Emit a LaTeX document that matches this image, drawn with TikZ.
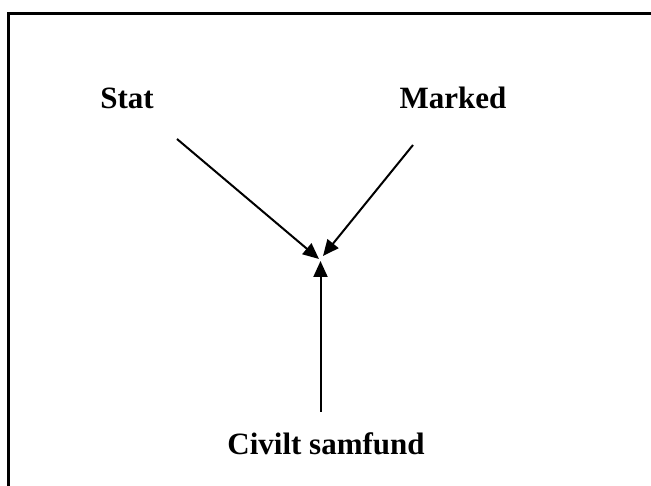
\documentclass[tikz,border=0pt]{standalone}
\usepackage{fontspec}
\setmainfont{Liberation Serif}
\usepackage{tikz}
\usetikzlibrary{positioning,arrows.meta,calc}

\begin{document}
\begin{tikzpicture}[
    x=1pt, y=-1pt,
    label/.style={font=\fontsize{31}{36}\selectfont\bfseries, anchor=base, inner sep=0pt},
    arr/.style={-{Triangle[length=16pt,width=14pt]}, line width=2pt}
]
\useasboundingbox (0,0) rectangle (651,486);
% frame runs off the right and bottom edges
\coordinate (frametop) at (651,13.5);
\coordinate (framecorner) at (8.5,13.5);
\coordinate (framebottom) at (8.5,486);
\draw[line width=2.4pt] (framebottom) -- (framecorner) -- (frametop);

\node[label] (stat) at (127,109) {Stat};
\node[label] (marked) at (453,109) {Marked};
\node[label] (civil) at (326,454) {Civilt samfund};

\coordinate (statstart) at (177,139);
\coordinate (markedstart) at (413,145);
\coordinate (civilstart) at (320.5,412);
\coordinate (statend) at (319,259);
\coordinate (markedend) at (323,256);
\coordinate (civilend) at (320.5,261);

\draw[arr] (statstart) -- (statend);
\draw[arr] (markedstart) -- (markedend);
\draw[arr] (civilstart) -- (civilend);
\end{tikzpicture}
\end{document}
